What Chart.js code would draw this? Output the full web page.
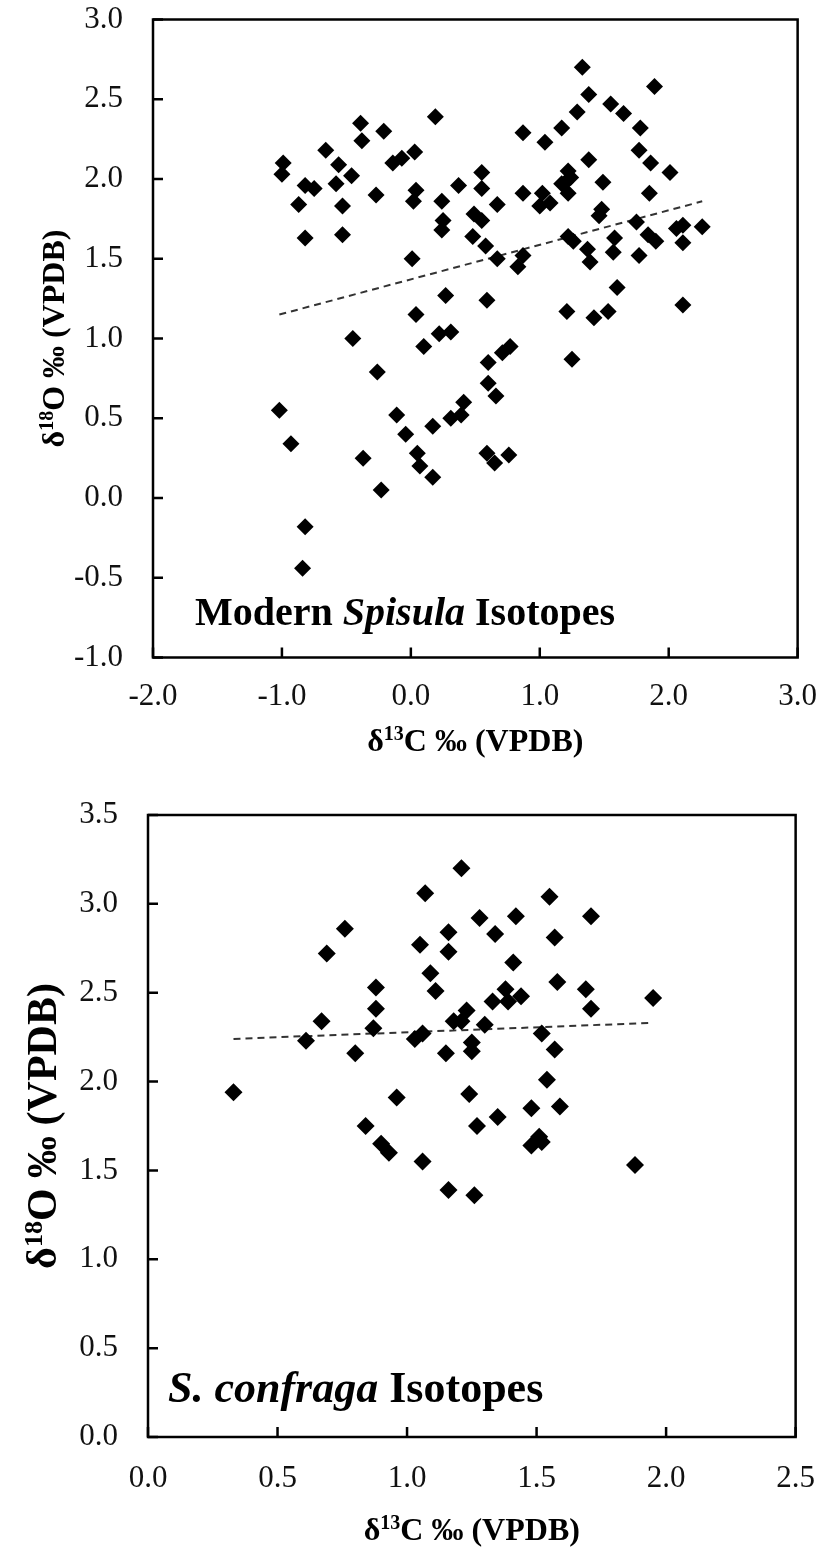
<!DOCTYPE html>
<html>
<head>
<meta charset="utf-8">
<script src="https://cdn.jsdelivr.net/npm/chart.js@4.4.1/dist/chart.umd.min.js"></script>
<style>
  html, body { margin: 0; padding: 0; background: #fff; }
  .panel { position: absolute; left: 0; width: 838px; height: 778px; }
  #topPanel { top: 0; }
  #bottomPanel { top: 778px; }
</style>
</head>
<body>
<div class="panel" id="topPanel"><canvas id="modernChart" width="838" height="778"></canvas></div>
<div class="panel" id="bottomPanel"><canvas id="confragaChart" width="838" height="778"></canvas></div>
<script>
// Modern Spisula: d13C (x) and d18O (y)
const modernC = [
  0.19, -0.39, -0.38, -0.21, -0.66, -0.99, -1.00, -0.56, -0.82, -0.75,
  -0.58, -0.46, -0.87, -0.53, -0.27, -0.82, -0.53, -0.14, -0.07, 0.03,
  0.04, 0.02, 0.24, 0.25, 0.24, 0.37, 0.01, 0.27, 0.04, 0.22,
  0.31, -0.45,
  1.33, 1.89, 1.38, 1.55, 1.65, 1.29, 1.17, 1.78, 0.87, 1.04,
  1.77, 1.38, 1.86, 2.01, 0.55, 1.22, 0.55, 0.87, 1.02, 1.08,
  1.00, 1.20, 1.17, 1.24, 1.22, 1.49, 0.67, 1.85, 0.49, 0.55,
  0.48, 0.58, 0.67, 0.87, 0.83, 1.48, 1.46, 1.75, 1.22, 1.26,
  1.37, 1.39, 1.58, 1.57, 1.77, 1.84, 1.90, 2.06, 2.11, 2.11,
  2.26, 1.60, 0.59, 1.21, 1.42, 1.53, 2.11,
  0.10, -0.26, -1.02, -0.93, -0.37, -0.23, -0.11, -0.04, 0.05, 0.07,
  0.17, 0.17, 0.31, -0.82, -0.84,
  0.77, 0.71, 0.60, 1.25, 0.60, 0.66, 0.41, 0.39, 0.59, 0.65, 0.76
]
const modernO = [
  2.39, 2.35, 2.24, 2.30, 2.18, 2.10, 2.03, 2.09, 1.96, 1.94,
  1.97, 2.02, 1.84, 1.83, 1.90, 1.63, 1.65, 2.10, 2.13, 2.17,
  1.93, 1.86, 1.86, 1.74, 1.68, 1.96, 1.50, 1.27, 1.15, 1.03,
  1.04, 1.00,
  2.70, 2.58, 2.53, 2.47, 2.41, 2.42, 2.32, 2.32, 2.29, 2.23,
  2.18, 2.12, 2.10, 2.04, 2.04, 2.05, 1.94, 1.91, 1.91, 1.85,
  1.83, 1.98, 1.97, 2.01, 1.91, 1.98, 1.84, 1.91, 1.78, 1.74,
  1.64, 1.58, 1.50, 1.52, 1.45, 1.81, 1.77, 1.73, 1.64, 1.61,
  1.56, 1.48, 1.63, 1.54, 1.52, 1.65, 1.61, 1.69, 1.71, 1.60,
  1.70, 1.32, 1.24, 1.17, 1.13, 1.17, 1.21,
  0.95, 0.79, 0.55, 0.34, 0.25, 0.05, 0.52, 0.40, 0.28, 0.20,
  0.45, 0.13, 0.50, -0.18, -0.44,
  0.95, 0.91, 0.85, 0.87, 0.72, 0.64, 0.60, 0.52, 0.28, 0.22, 0.27
]
const modernTrendC = [-1.02, 2.26]
const modernTrendO = [1.15, 1.86]
const modernXTicks = [-2, -1, 0, 1, 2, 3]
const modernYTicks = [-1, -0.5, 0, 0.5, 1, 1.5, 2, 2.5, 3]

// S. confraga: d13C (x) and d18O (y)
const confragaC = [
  1.21, 1.07, 0.76, 0.69, 1.05, 1.16, 1.16, 1.09, 1.11, 0.88,
  0.88, 0.87, 0.67, 0.61, 0.80, 1.03, 1.06, 1.15, 1.18, 1.21,
  1.23, 1.25, 1.25, 0.33, 0.96, 1.24, 1.28, 1.55, 1.42, 1.71,
  1.34, 1.57, 1.41, 1.58, 1.69, 1.71, 1.95, 1.38, 1.33, 1.39,
  1.44, 1.30, 1.52, 1.57, 1.54, 0.84, 0.90, 0.93, 1.06, 1.16,
  1.26, 1.27, 1.48, 1.59, 1.35, 1.48, 1.51, 1.52, 1.88
]
const confragaO = [
  3.20, 3.06, 2.86, 2.72, 2.77, 2.84, 2.73, 2.61, 2.51, 2.53,
  2.41, 2.30, 2.34, 2.23, 2.16, 2.24, 2.27, 2.16, 2.34, 2.34,
  2.40, 2.22, 2.17, 1.94, 1.91, 1.93, 2.92, 3.04, 2.93, 2.93,
  2.83, 2.81, 2.67, 2.56, 2.52, 2.41, 2.47, 2.52, 2.45, 2.45,
  2.48, 2.32, 2.27, 2.18, 2.01, 1.75, 1.65, 1.60, 1.55, 1.39,
  1.36, 1.75, 1.85, 1.86, 1.80, 1.64, 1.69, 1.66, 1.53
]
const confragaTrendC = [0.33, 1.94]
const confragaTrendO = [2.24, 2.33]
const confragaXTicks = [0, 0.5, 1, 1.5, 2, 2.5]
const confragaYTicks = [0, 0.5, 1, 1.5, 2, 2.5, 3, 3.5]

const SERIF = "'Liberation Serif', 'Times New Roman', serif"

function toPoints(xs, ys) {
  return xs.map((x, i) => ({ x: x, y: ys[i] }))
}

function isotopeTitle(mass, element, size) {
  return [
    { text: "δ", font: `bold ${size}px ${SERIF}` },
    { text: mass, font: `bold ${Math.round(size * 0.62)}px ${SERIF}`, rise: size * 0.34 },
    { text: `${element} ‰ (VPDB)`, font: `bold ${size}px ${SERIF}` }
  ]
}

function drawParts(ctx, parts, x, y, align) {
  let width = 0
  parts.forEach((p) => {
    ctx.font = p.font
    width += ctx.measureText(p.text).width
  })
  let cx = align === "center" ? x - width / 2 : x
  parts.forEach((p) => {
    ctx.font = p.font
    ctx.fillText(p.text, cx, y - (p.rise || 0))
    cx += ctx.measureText(p.text).width
  })
}

// box, inward ticks, axis titles and the label inside the plot
function makeFrame(cfg) {
  return {
    id: "frame",
    afterDatasetsDraw(chart) {
      const { ctx, chartArea: area, scales } = chart
      ctx.save()
      ctx.strokeStyle = "#000"
      ctx.lineWidth = 2.5
      ctx.strokeRect(area.left, area.top, area.right - area.left, area.bottom - area.top)

      ctx.beginPath()
      scales.x.ticks.forEach((t) => {
        const px = scales.x.getPixelForValue(t.value)
        ctx.moveTo(px, area.bottom)
        ctx.lineTo(px, area.bottom - cfg.tick)
      })
      scales.y.ticks.forEach((t) => {
        const py = scales.y.getPixelForValue(t.value)
        ctx.moveTo(area.left, py)
        ctx.lineTo(area.left + cfg.tick, py)
      })
      ctx.stroke()

      ctx.fillStyle = "#000"
      ctx.textBaseline = "alphabetic"
      ctx.textAlign = "left"
      drawParts(ctx, isotopeTitle("13", "C", cfg.xTitleSize), (area.left + area.right) / 2, cfg.xTitleY, "center")

      ctx.save()
      ctx.translate(cfg.yTitleX, (area.top + area.bottom) / 2)
      ctx.rotate(-Math.PI / 2)
      drawParts(ctx, isotopeTitle("18", "O", cfg.yTitleSize), 0, 0, "center")
      ctx.restore()

      drawParts(ctx, cfg.label, cfg.labelX, cfg.labelY, "left")
      ctx.restore()
    }
  }
}

function axis(min, max, tickValues, fit, fontSize, padding) {
  return {
    type: "linear",
    min: min,
    max: max,
    afterBuildTicks: (scale) => {
      scale.ticks = tickValues.map((value) => ({ value: value }))
    },
    afterFit: fit,
    grid: { display: false, drawTicks: false },
    border: { display: false },
    ticks: {
      autoSkip: false,
      maxRotation: 0,
      padding: padding,
      color: "#111",
      font: { family: SERIF, size: fontSize },
      callback: (value) => Number(value).toFixed(1)
    }
  }
}

function scatterChart(canvasId, points, trend, scales, padding, frame) {
  return new Chart(document.getElementById(canvasId), {
    type: "scatter",
    data: {
      datasets: [
        {
          data: points,
          pointStyle: "rectRot",
          pointRadius: frame.pointRadius,
          pointHoverRadius: frame.pointRadius,
          backgroundColor: "#000",
          borderColor: "#000",
          borderWidth: 0
        },
        {
          data: trend,
          showLine: true,
          pointRadius: 0,
          borderColor: "#333",
          borderWidth: 2,
          borderDash: [7, 5],
          fill: false
        }
      ]
    },
    options: {
      responsive: false,
      animation: false,
      events: [],
      layout: { padding: padding },
      scales: scales,
      plugins: {
        legend: { display: false },
        tooltip: { enabled: false }
      }
    },
    plugins: [makeFrame(frame)]
  })
}

// the y scale keeps its label gap, but must not push the plot top down
function yFit(width) {
  return (s) => {
    s.width = width
    s.paddingTop = 0
    s.paddingBottom = 0
  }
}

scatterChart(
  "modernChart",
  toPoints(modernC, modernO),
  toPoints(modernTrendC, modernTrendO),
  {
    x: axis(-2, 3, modernXTicks, (s) => { s.height = 120.5 }, 31, 21),
    y: axis(-1, 3, modernYTicks, yFit(153), 31, 30)
  },
  { top: 19.5, right: 25, left: 0, bottom: 0 },
  {
    tick: 10,
    pointRadius: 8.5,
    xTitleSize: 32,
    xTitleY: 751,
    yTitleSize: 32,
    yTitleX: 64,
    labelX: 195,
    labelY: 625,
    label: [
      { text: "Modern ", font: `bold 40px ${SERIF}` },
      { text: "Spisula", font: `italic bold 40px ${SERIF}` },
      { text: " Isotopes", font: `bold 40px ${SERIF}` }
    ]
  }
)

scatterChart(
  "confragaChart",
  toPoints(confragaC, confragaO),
  toPoints(confragaTrendC, confragaTrendO),
  {
    x: axis(0, 2.5, confragaXTicks, (s) => { s.height = 119 }, 31, 23),
    y: axis(0, 3.5, confragaYTicks, yFit(148), 31, 30)
  },
  { top: 37, right: 30, left: 0, bottom: 0 },
  {
    tick: 10,
    pointRadius: 9,
    xTitleSize: 32,
    xTitleY: 762,
    yTitleSize: 42,
    yTitleX: 56,
    labelX: 168,
    labelY: 624,
    label: [
      { text: "S. confraga", font: `italic bold 44px ${SERIF}` },
      { text: " Isotopes", font: `bold 44px ${SERIF}` }
    ]
  }
)
</script>
</body>
</html>
